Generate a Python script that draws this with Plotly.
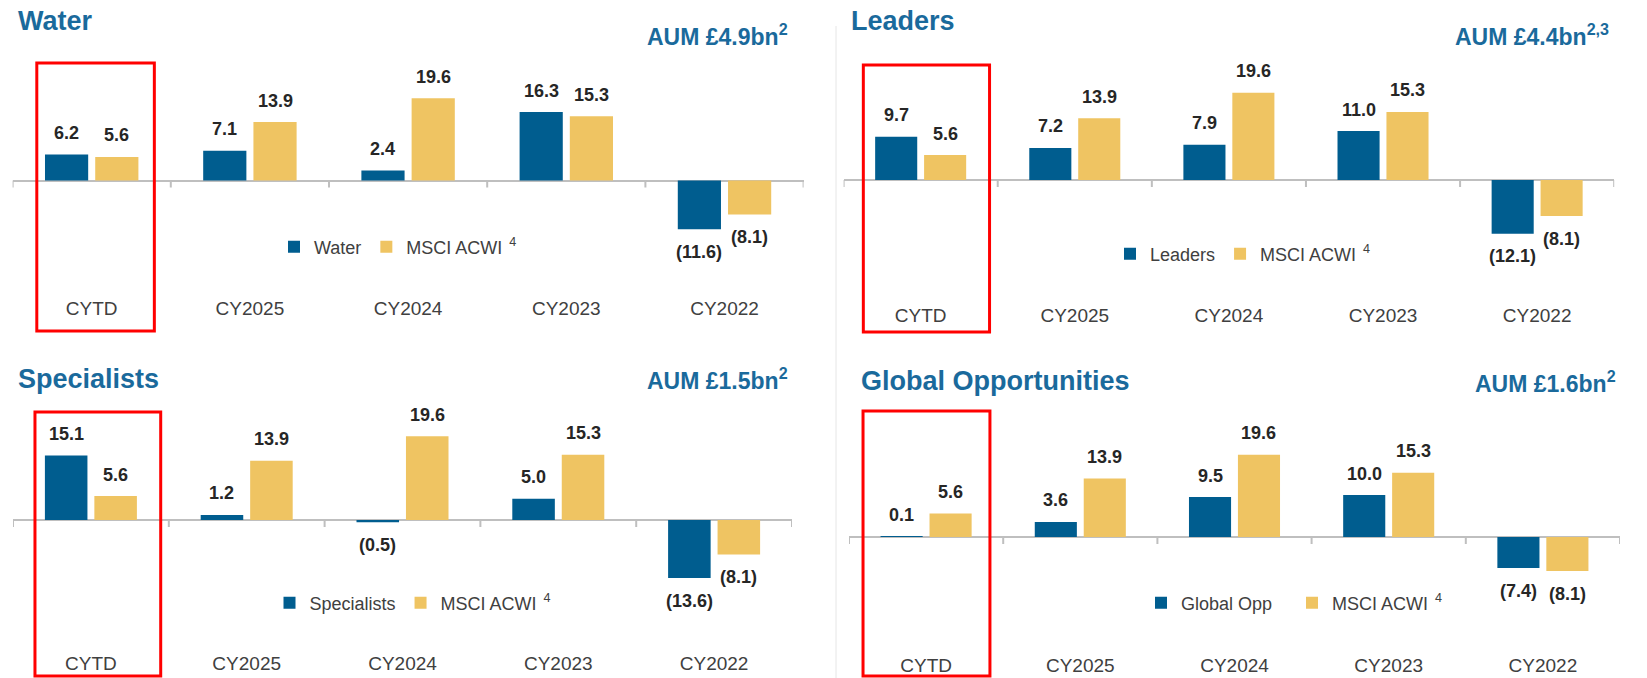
import plotly.graph_objects as go

# ---------------- data ----------------
categories = ["CYTD", "CY2025", "CY2024", "CY2023", "CY2022"]
msci_acwi = [5.6, 13.9, 19.6, 15.3, -8.1]
water = [6.2, 7.1, 2.4, 16.3, -11.6]
leaders = [9.7, 7.2, 7.9, 11.0, -12.1]
specialists = [15.1, 1.2, -0.5, 5.0, -13.6]
global_opp = [0.1, 3.6, 9.5, 10.0, -7.4]

panel_titles = ["Water", "Leaders", "Specialists", "Global Opportunities"]
fund_names = ["Water", "Leaders", "Specialists", "Global Opp"]
fund_series = [water, leaders, specialists, global_opp]
aum_labels = ["AUM £4.9bn<sup>2</sup>", "AUM £4.4bn<sup>2,3</sup>",
              "AUM £1.5bn<sup>2</sup>", "AUM £1.6bn<sup>2</sup>"]
benchmark_name = "MSCI ACWI<sup>  4</sup>"

# ---------------- styling / layout (pixels) ----------------
W, H = 1647, 678
BLUE = "#005D8F"
GOLD = "#EFC462"
TITLE_BLUE = "#1A6A9C"
AXIS_GRAY = "#BFBFBF"
LABEL_DARK = "#262626"
CAT_GRAY = "#404040"
FONT = "Liberation Sans, Arial, sans-serif"
BARGAP = 0.365
BARGROUPGAP = 0.14

panels = [
    dict(x0=12.6, x1=803.6, top=45, bottom=295, zero=180.5, scale=4.2,
         box=(-0.347, 0.396, 63, 331), title=(16, 21), aum=(790, 35),
         legend=(398, 247), entrywidth=None),
    dict(x0=843.6, x1=1614.2, top=45, bottom=302, zero=180, scale=4.45,
         box=(-0.372, 0.447, 65, 332), title=(849, 21), aum=(1611, 35),
         legend=(1243, 254), entrywidth=None),
    dict(x0=13, x1=792, top=400, bottom=650, zero=520, scale=4.27,
         box=(-0.359, 0.448, 412, 676), title=(16, 379), aum=(790, 378.5),
         legend=(413, 603), entrywidth=None),
    dict(x0=849, x1=1620, top=400, bottom=652, zero=537, scale=4.2,
         box=(-0.409, 0.414, 411, 676), title=(859, 381), aum=(1618, 381.5),
         legend=(1292, 603), entrywidth=106),
]


def px_x(p):
    return p / W


def px_y(p):
    return 1 - p / H


fig = go.Figure()
shapes = []
annotations = []
layout = dict(
    width=W, height=H,
    margin=dict(l=0, r=0, t=0, b=0),
    paper_bgcolor="white", plot_bgcolor="white",
    barmode="group", bargap=BARGAP, bargroupgap=BARGROUPGAP,
    font=dict(family=FONT, color=CAT_GRAY),
    hovermode=False,
)

for k, p in enumerate(panels):
    n = "" if k == 0 else str(k + 1)
    xa, ya = "x" + n, "y" + n
    leg = "legend" + n
    yr = [(p["zero"] - p["bottom"]) / p["scale"], (p["zero"] - p["top"]) / p["scale"]]

    layout["xaxis" + n] = dict(
        domain=[px_x(p["x0"]), px_x(p["x1"])], anchor=ya, type="category",
        range=[-0.5, 4.5], showline=False, showgrid=False, ticks="",
        tickfont=dict(size=19, color=CAT_GRAY, family=FONT), fixedrange=True,
    )
    layout["yaxis" + n] = dict(
        domain=[px_y(p["bottom"]), px_y(p["top"])], anchor=xa, range=yr,
        showticklabels=False, showgrid=False, showline=False, ticks="",
        zeroline=True, zerolinecolor=AXIS_GRAY, zerolinewidth=2, fixedrange=True,
    )
    legd = dict(
        orientation="h", x=px_x(p["legend"][0]), y=px_y(p["legend"][1]),
        xanchor="center", yanchor="middle", bgcolor="rgba(0,0,0,0)",
        font=dict(size=18, color=CAT_GRAY, family=FONT), itemwidth=30,
    )
    if p["entrywidth"]:
        legd["entrywidth"] = p["entrywidth"]
        legd["entrywidthmode"] = "pixels"
    layout[leg] = legd

    fig.add_trace(go.Bar(x=categories, y=fund_series[k], name=fund_names[k],
                         marker=dict(color=BLUE, line=dict(width=0)),
                         xaxis=xa, yaxis=ya, legend=leg))
    fig.add_trace(go.Bar(x=categories, y=msci_acwi, name=benchmark_name,
                         marker=dict(color=GOLD, line=dict(width=0)),
                         xaxis=xa, yaxis=ya, legend=leg))

    # data labels
    cat_w = (p["x1"] - p["x0"]) / len(categories)
    slot = cat_w * (1 - BARGAP) / 2
    for series, shift in ((fund_series[k], -slot / 2), (msci_acwi, slot / 2)):
        for c, v in zip(categories, series):
            txt = f"{v:.1f}" if v >= 0 else f"({abs(v):.1f})"
            annotations.append(dict(
                x=c, y=v, xref=xa, yref=ya, text=txt, showarrow=False,
                xshift=shift, yshift=21.5 if v >= 0 else -22.5, yanchor="middle",
                font=dict(size=18, color=LABEL_DARK, family=FONT, weight="bold"),
            ))

    # tick marks at category boundaries, hanging below zero line
    for i in range(len(categories) + 1):
        shapes.append(dict(type="line", xref=xa, yref=ya, x0=i - 0.5, x1=i - 0.5,
                           ysizemode="pixel", yanchor=0, y0=0, y1=-7,
                           line=dict(color=AXIS_GRAY, width=2)))

    # red highlight box around CYTD
    bx0, bx1, by0, by1 = p["box"]
    shapes.append(dict(type="rect", xref=xa, yref="paper", x0=bx0, x1=bx1,
                       y0=px_y(by1), y1=px_y(by0),
                       line=dict(color="#FF0000", width=3), fillcolor="rgba(0,0,0,0)"))

    # panel title and AUM
    annotations.append(dict(
        x=px_x(p["title"][0]), y=px_y(p["title"][1]), xref="paper", yref="paper",
        text=panel_titles[k], showarrow=False, xanchor="left", yanchor="middle",
        font=dict(size=27, color=TITLE_BLUE, family=FONT, weight="bold"),
    ))
    annotations.append(dict(
        x=px_x(p["aum"][0]), y=px_y(p["aum"][1]), xref="paper", yref="paper",
        text=aum_labels[k], showarrow=False, xanchor="right", yanchor="middle",
        font=dict(size=23, color=TITLE_BLUE, family=FONT, weight="bold"),
    ))

# vertical divider between left and right panels
shapes.append(dict(type="line", xref="paper", yref="paper",
                   x0=px_x(836), x1=px_x(836), y0=0, y1=px_y(26),
                   line=dict(color="#E6E6E6", width=1)))

layout["shapes"] = shapes
layout["annotations"] = annotations
fig.update_layout(**layout)

fig.write_html("out.html", config={"displayModeBar": False},
               post_script="document.body.style.margin='0';")
